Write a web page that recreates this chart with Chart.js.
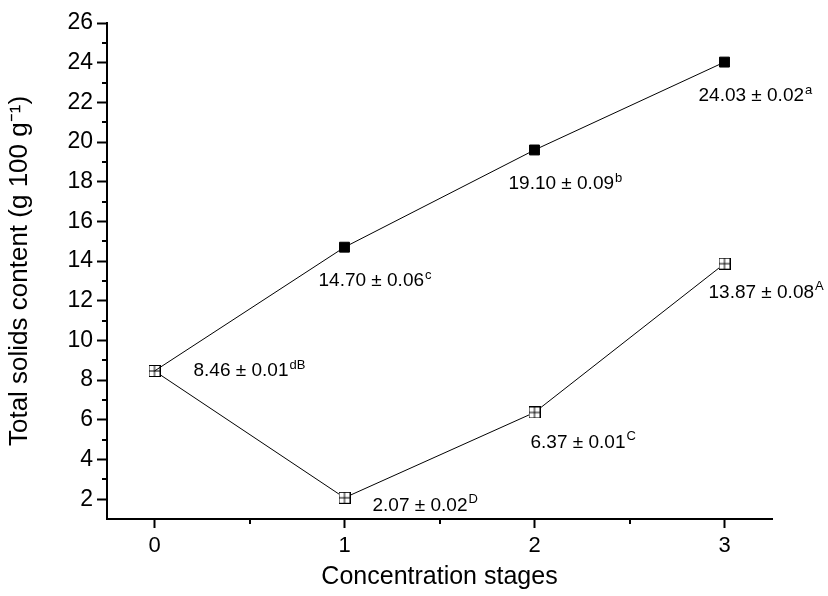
<!DOCTYPE html>
<html>
<head>
<meta charset="utf-8">
<script src="https://cdn.jsdelivr.net/npm/chart.js@4.4.1/dist/chart.umd.min.js"></script>
<style>
  html, body { margin: 0; padding: 0; background: #fff; }
  #wrap { width: 828px; height: 596px; }
</style>
</head>
<body>
<div id="wrap"><canvas id="chartCanvas" width="828" height="596"></canvas></div>
<script>
// stages on the x axis
const stages = [0, 1, 2, 3];
// plotted values
const upperSeries = [8.46, 14.70, 19.60, 24.03];
const lowerSeries = [8.46, 2.07, 6.37, 13.87];
// point labels (mean ± sd) and their letters
const upperText = ['8.46 ± 0.01', '14.70 ± 0.06', '19.10 ± 0.09', '24.03 ± 0.02'];
const upperSup = ['dB', 'c', 'b', 'a'];
const lowerText = ['', '2.07 ± 0.02', '6.37 ± 0.01', '13.87 ± 0.08'];
const lowerSup = ['', 'D', 'C', 'A'];
// ticks
const xTicks = [0, 1, 2, 3];
const xMinor = [0.5, 1.5, 2.5];
const yTicks = [2, 4, 6, 8, 10, 12, 14, 16, 18, 20, 22, 24, 26];
const yMinor = [3, 5, 7, 9, 11, 13, 15, 17, 19, 21, 23, 25];

const FONT = '"Liberation Sans", Arial, sans-serif';

// open square with a cross, used as marker of the lower series
function crossSquare() {
    const c = document.createElement('canvas');
    c.width = 12; c.height = 12;
    const g = c.getContext('2d');
    g.fillStyle = '#fff';
    g.fillRect(0, 0, 12, 12);
    g.strokeStyle = '#000';
    g.lineWidth = 1;
    g.strokeRect(0.5, 0.5, 11, 11);
    g.beginPath();
    g.moveTo(6, 0.5); g.lineTo(6, 11.5);
    g.moveTo(0.5, 6); g.lineTo(11.5, 6);
    g.stroke();
    return c;
}

// minor ticks + point labels
const extras = {
    id: 'extras',
    afterDraw(chart) {
        const ctx = chart.ctx;
        const xs = chart.scales.x, ys = chart.scales.y;
        const area = chart.chartArea;
        ctx.save();
        ctx.strokeStyle = '#000';
        ctx.lineWidth = 2;
        ctx.beginPath();
        yMinor.forEach(v => {
            const py = Math.round(ys.getPixelForValue(v));
            ctx.moveTo(area.left - 5, py);
            ctx.lineTo(area.left, py);
        });
        xMinor.forEach(v => {
            const px = Math.round(xs.getPixelForValue(v));
            ctx.moveTo(px, area.bottom);
            ctx.lineTo(px, area.bottom + 5);
        });
        ctx.stroke();

        function label(text, sup, x, y) {
            if (!text) return;
            ctx.fillStyle = '#000';
            ctx.textBaseline = 'middle';
            ctx.textAlign = 'left';
            ctx.font = '19px ' + FONT;
            ctx.fillText(text, x, y);
            const w = ctx.measureText(text).width;
            ctx.font = '13px ' + FONT;
            ctx.fillText(sup, x + w + 1, y - 6);
        }
        const offUpper = [[39, 0], [-26, 34], [-26, 34], [-26, 34]];
        const offLower = [[0, 0], [28, 8], [-4, 30], [-16, 29]];
        stages.forEach((s, i) => {
            const px = xs.getPixelForValue(s);
            label(upperText[i], upperSup[i], px + offUpper[i][0], ys.getPixelForValue(upperSeries[i]) + offUpper[i][1]);
            label(lowerText[i], lowerSup[i], px + offLower[i][0], ys.getPixelForValue(lowerSeries[i]) + offLower[i][1]);
        });
        ctx.restore();
    }
};

new Chart(document.getElementById('chartCanvas'), {
    type: 'line',
    data: {
        datasets: [
            {
                data: stages.map((s, i) => ({ x: s, y: upperSeries[i] })),
                borderColor: '#000',
                borderWidth: 1,
                pointStyle: 'rect',
                pointRadius: [0, 7, 7, 7],
                pointBackgroundColor: '#000',
                pointBorderColor: '#000',
                pointBorderWidth: 1
            },
            {
                data: stages.map((s, i) => ({ x: s, y: lowerSeries[i] })),
                borderColor: '#000',
                borderWidth: 1,
                pointStyle: crossSquare(),
                pointRadius: 6
            }
        ]
    },
    options: {
        responsive: false,
        animation: false,
        layout: { padding: { top: 23, right: 56, left: 0, bottom: 0 } },
        plugins: { legend: { display: false }, tooltip: { enabled: false } },
        scales: {
            x: {
                type: 'linear',
                min: -0.25,
                max: 3.25,
                afterBuildTicks: s => { s.ticks = xTicks.map(v => ({ value: v })); },
                afterFit: s => { s.height = 77; },
                border: { color: '#000', width: 2 },
                grid: { drawOnChartArea: false, drawTicks: true, tickLength: 9, tickColor: '#000', tickWidth: 2 },
                ticks: { color: '#000', font: { family: FONT, size: 22 }, padding: 5 },
                title: { display: true, text: 'Concentration stages', color: '#000', font: { family: FONT, size: 25 }, padding: { top: 8 } }
            },
            y: {
                type: 'linear',
                min: 1,
                max: 26,
                afterBuildTicks: s => { s.ticks = yTicks.map(v => ({ value: v })); },
                afterFit: s => { s.width = 107; },
                border: { color: '#000', width: 2 },
                grid: { drawOnChartArea: false, drawTicks: true, tickLength: 10, tickColor: '#000', tickWidth: 2 },
                ticks: { color: '#000', font: { family: FONT, size: 23 }, padding: 4 },
                title: { display: true, text: 'Total solids content (g 100 g⁻¹)', color: '#000', font: { family: FONT, size: 26 }, padding: { top: 4, bottom: 0 } }
            }
        }
    },
    plugins: [extras]
});
</script>
</body>
</html>
